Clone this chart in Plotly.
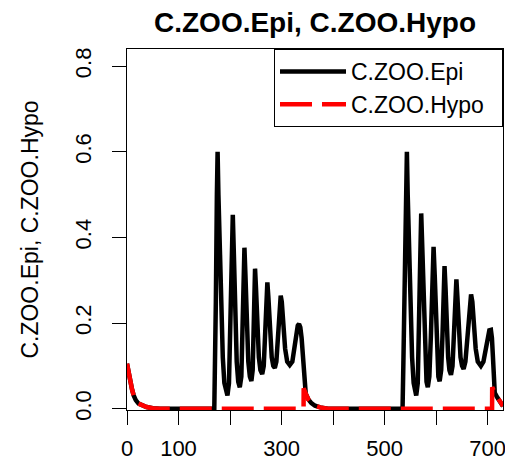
import plotly.graph_objects as go

# days and values
day_epi = [0, 3, 6.5, 10, 13, 17, 22.5, 30, 38, 50, 64, 169.5,
           171, 172.5, 174.5, 175.9, 177.5, 180, 183, 186, 189, 192, 195, 198,
           200.5, 203, 205.4, 207.5, 210, 213, 216, 219, 222, 224.5, 226.5, 228,
           230, 232.5, 235.5, 238.5, 241.5, 244, 246, 247.5, 248.6, 250.5, 253,
           256, 259, 262.5, 265.5, 268.5, 270.5, 272.5, 274.5, 277.5, 281, 284,
           287, 290, 293, 296, 298.4, 300.5, 303.5, 307, 311, 316, 321, 325,
           328.5, 331.5, 334, 336.5, 339, 341, 343, 344.5, 347, 352, 358, 365,
           375, 390,
           535, 536.5, 538, 541, 543.4, 545, 547.5, 550.5, 553.5, 556.5, 559,
           561.5, 564.5, 567, 569, 571.2, 573.5, 576, 579, 581.5, 584, 587, 590,
           592.5, 595.2, 597.5, 600, 602.5, 604.5, 607, 610, 612.5, 614.5, 616.5,
           618.5, 621, 623.5, 626, 629, 632, 635, 637.5, 639.5, 641.5, 644.5,
           647.5, 650.5, 653.5, 657, 660.5, 664.5, 668, 670.5, 673.5, 677, 681,
           687, 692, 696, 700, 703.5, 706.5, 708.5, 710.5, 712, 714, 719, 724, 730]
c_zoo_epi = [0.105, 0.082, 0.062, 0.044, 0.031, 0.02, 0.012, 0.007, 0.004, 0.001, 0, 0,
             0.1, 0.25, 0.5, 0.6, 0.5, 0.36, 0.22, 0.12, 0.06, 0.038, 0.031, 0.06,
             0.17, 0.33, 0.453, 0.36, 0.22, 0.11, 0.063, 0.05, 0.075, 0.17, 0.31, 0.376,
             0.31, 0.2, 0.11, 0.075, 0.065, 0.09, 0.17, 0.28, 0.327, 0.28, 0.19,
             0.12, 0.09, 0.081, 0.1, 0.18, 0.26, 0.295, 0.26, 0.18, 0.12, 0.1,
             0.095, 0.11, 0.16, 0.23, 0.264, 0.25, 0.19, 0.14, 0.11, 0.102, 0.11, 0.14,
             0.175, 0.194, 0.198, 0.19, 0.165, 0.13, 0.085, 0.05, 0.035, 0.022, 0.013, 0.007,
             0.003, 0,
             0, 0.1, 0.25, 0.5, 0.6, 0.5, 0.36, 0.22, 0.12, 0.06, 0.038,
             0.031, 0.06, 0.17, 0.33, 0.456, 0.36, 0.22, 0.11, 0.063, 0.05, 0.075, 0.17,
             0.3, 0.378, 0.31, 0.2, 0.11, 0.075, 0.064, 0.09, 0.17, 0.28, 0.333,
             0.28, 0.19, 0.12, 0.09, 0.079, 0.1, 0.18, 0.26, 0.302, 0.26, 0.18,
             0.12, 0.1, 0.093, 0.11, 0.16, 0.23, 0.267, 0.25, 0.19, 0.14, 0.11,
             0.1, 0.11, 0.14, 0.17, 0.183, 0.184, 0.165, 0.12, 0.06, 0.037, 0.026, 0.016, 0.006]

day_hypo = [0, 3, 6.5, 10, 13, 17, 22.5, 30, 38, 50, 64, 342.8,
            343, 347, 352, 358, 365, 375, 390, 708.8,
            709, 714, 719, 724, 730]
c_zoo_hypo = [0.105, 0.082, 0.062, 0.044, 0.031, 0.02, 0.012, 0.007, 0.004, 0.001, 0, 0,
              0.048, 0.035, 0.022, 0.013, 0.007, 0.003, 0, 0,
              0.05, 0.037, 0.026, 0.016, 0.006]

x_ticks = [0, 100, 200, 300, 400, 500, 600, 700]
x_labels = ["0", "100", "", "300", "", "500", "", "700"]
y_ticks = [0, 0.2, 0.4, 0.6, 0.8]
y_labels = ["0.0", "0.2", "0.4", "0.6", "0.8"]

font = "Liberation Sans, Arial, sans-serif"

fig = go.Figure()
fig.add_trace(go.Scatter(x=day_epi, y=c_zoo_epi, name="C.ZOO.Epi  ", mode="lines",
                         line=dict(color="black", width=4.5)))
fig.add_trace(go.Scatter(x=day_hypo, y=c_zoo_hypo, name="C.ZOO.Hypo  ", mode="lines",
                         line=dict(color="red", width=4.5, dash="32px,10px")))

# the page body adds an 8px margin, so the figure is 8px smaller each way
fig.update_layout(
    width=505, height=455, autosize=False,
    margin=dict(l=119, r=10, t=41, b=53),
    plot_bgcolor="white", paper_bgcolor="white",
    font=dict(family=font, size=23, color="black"),
    title=dict(text="<b>C.ZOO.Epi, C.ZOO.Hypo</b>", font=dict(size=28, color="black"),
               x=0.5, xref="paper", y=1 - 14 / 455, yref="container",
               xanchor="center", yanchor="middle", automargin=False),
    legend=dict(x=1, y=1, xanchor="right", yanchor="top", bgcolor="white",
                bordercolor="black", borderwidth=1, font=dict(size=23),
                itemwidth=66),
)
fig.update_xaxes(range=[0, 730], tickvals=x_ticks, ticktext=x_labels,
                 showline=True, linecolor="black", linewidth=1, mirror=True,
                 ticks="outside", ticklen=14, tickcolor="black", showgrid=False,
                 zeroline=False, ticklabelstandoff=5, tickfont=dict(size=22),
                 automargin=False)
fig.update_yaxes(range=[-0.003, 0.84], tickvals=y_ticks, ticktext=y_labels,
                 showline=True, linecolor="black", linewidth=1, mirror=True,
                 ticks="outside", ticklen=14, tickcolor="black", showgrid=False,
                 zeroline=False, tickangle=-90, ticklabelstandoff=12,
                 tickfont=dict(size=22), automargin=False,
                 title=dict(text="C.ZOO.Epi, C.ZOO.Hypo", standoff=26,
                            font=dict(size=23)))

fig.write_html("out.html")
